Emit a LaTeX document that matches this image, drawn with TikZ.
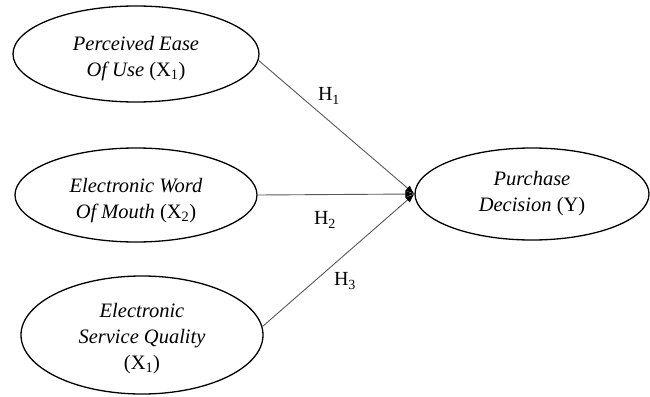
\documentclass[tikz,border=0pt]{standalone}
\usepackage{fontspec}
\setmainfont{Liberation Serif}
\usetikzlibrary{shapes.geometric,arrows.meta}
\newcommand{\dropstrut}[1]{\rule{0pt}{#1}}
\begin{document}
\begin{tikzpicture}[x=1pt,y=-1pt,
  var/.style={ellipse, draw=black, line width=1.3pt, inner sep=0pt, align=center,
    font=\fontsize{20.5}{26}\selectfont},
  link/.style={draw=black!65, line width=0.9pt, -{Latex[length=9pt,width=7pt,black]}},
  hyp/.style={font=\fontsize{20}{26}\selectfont, inner sep=0pt}]
\useasboundingbox (0,0) rectangle (650,396);
\node[var, minimum width=246, minimum height=96] (x1) at (136,54)
  {\dropstrut{23pt}\textit{Perceived Ease}\\\textit{Of Use} (X\textsubscript{1})};
\node[var, minimum width=242, minimum height=94] (x2) at (136,195)
  {\dropstrut{26pt}\textit{Electronic Word}\\\textit{Of Mouth} (X\textsubscript{2})};
\node[var, minimum width=242, minimum height=118] (x3) at (142,335)
  {\dropstrut{21pt}\textit{Electronic}\\\textit{Service Quality}\\(X\textsubscript{1})};
\node[var, minimum width=234, minimum height=92] (y) at (532,194)
  {\textit{Purchase}\\\textit{Decision} (Y)};
\draw[link] (x1.-3) -- (y.west);
\draw[link] (x2.east) -- (y.west);
\draw[link] (x3.4) -- (y.west);
\node[hyp] (h1) at (329,96) {H\textsubscript{1}};
\node[hyp] (h2) at (325,220) {H\textsubscript{2}};
\node[hyp] (h3) at (345,281) {H\textsubscript{3}};
\end{tikzpicture}
\end{document}
